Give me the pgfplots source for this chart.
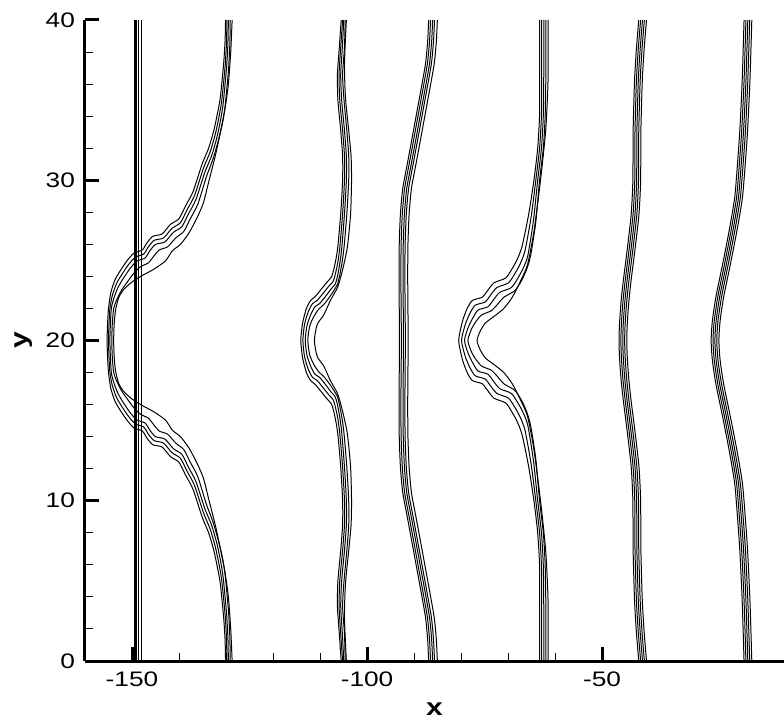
\documentclass[border=0pt]{standalone}
\usepackage{fontspec}
\setmainfont{Liberation Sans}[FakeStretch=1.25]
\usepackage{pgfplots}
\usepackage{pgfplotstable}
\pgfplotsset{compat=1.18}

% contour groups with the same y rows for all five lines
\pgfplotstableread{
y     a      b      c      d      e
0     -86.9  -86.5  -86.05 -85.65 -85.05
1.3   -87.1  -86.7  -86.25 -85.85 -85.25
2.7   -87.55 -87.15 -86.7  -86.3  -85.7
4.3   -88.5  -88.1  -87.65 -87.25 -86.65
5.9   -89.5  -89.1  -88.65 -88.25 -87.65
7.5   -90.5  -90.1  -89.65 -89.25 -88.65
9.0   -91.45 -91.05 -90.6  -90.2  -89.6
10.5  -92.4  -92.0  -91.55 -91.15 -90.55
12.1  -92.9  -92.5  -92.05 -91.65 -91.05
14.0  -93.15 -92.75 -92.3  -91.9  -91.3
16.0  -93.2  -92.8  -92.35 -91.95 -91.35
18.0  -93.15 -92.75 -92.3  -91.9  -91.3
20.0  -93.1  -92.7  -92.25 -91.85 -91.25
22.0  -93.15 -92.75 -92.3  -91.9  -91.3
24.0  -93.2  -92.8  -92.35 -91.95 -91.35
26.0  -93.15 -92.75 -92.3  -91.9  -91.3
27.9  -92.9  -92.5  -92.05 -91.65 -91.05
29.5  -92.4  -92.0  -91.55 -91.15 -90.55
31.0  -91.45 -91.05 -90.6  -90.2  -89.6
32.5  -90.5  -90.1  -89.65 -89.25 -88.65
34.1  -89.5  -89.1  -88.65 -88.25 -87.65
35.7  -88.5  -88.1  -87.65 -87.25 -86.65
37.3  -87.55 -87.15 -86.7  -86.3  -85.7
38.7  -87.1  -86.7  -86.25 -85.85 -85.25
40.0  -86.9  -86.5  -86.05 -85.65 -85.05
}\gthree

\pgfplotstableread{
y     a      b      c      d      e
0     -42.2  -41.8  -41.4  -41.0  -40.55
1.8   -42.7  -42.3  -41.9  -41.5  -41.05
3.8   -43.1  -42.7  -42.3  -41.9  -41.45
7.0   -43.4  -43.0  -42.6  -42.2  -41.75
10.0  -43.45 -43.05 -42.65 -42.25 -41.8
12.1  -43.8  -43.4  -43.0  -42.6  -42.15
14.2  -44.6  -44.2  -43.8  -43.4  -42.95
16.3  -45.5  -45.1  -44.7  -44.3  -43.85
17.7  -46.0  -45.6  -45.2  -44.8  -44.35
19.0  -46.3  -45.9  -45.5  -45.1  -44.65
20.0  -46.4  -46.0  -45.6  -45.2  -44.75
21.0  -46.3  -45.9  -45.5  -45.1  -44.65
22.3  -46.0  -45.6  -45.2  -44.8  -44.35
23.7  -45.5  -45.1  -44.7  -44.3  -43.85
25.8  -44.6  -44.2  -43.8  -43.4  -42.95
27.9  -43.8  -43.4  -43.0  -42.6  -42.15
30.0  -43.45 -43.05 -42.65 -42.25 -41.8
33.0  -43.4  -43.0  -42.6  -42.2  -41.75
36.2  -43.1  -42.7  -42.3  -41.9  -41.45
38.2  -42.7  -42.3  -41.9  -41.5  -41.05
40.0  -42.2  -41.8  -41.4  -41.0  -40.55
}\gfive

\pgfplotstableread{
y     a      b      c      d      e
0     -19.8  -19.4  -19.0  -18.6  -18.15
3.8   -20.2  -19.8  -19.4  -19.0  -18.55
6.9   -20.7  -20.3  -19.9  -19.5  -19.05
9.0   -21.2  -20.8  -20.4  -20.0  -19.55
11.1  -21.8  -21.4  -21.0  -20.6  -20.15
13.2  -23.0  -22.6  -22.2  -21.8  -21.35
15.3  -24.4  -24.0  -23.6  -23.2  -22.75
17.3  -25.8  -25.4  -25.0  -24.6  -24.15
18.8  -26.55 -26.15 -25.75 -25.35 -24.9
20.0  -26.8  -26.4  -26.0  -25.6  -25.15
21.2  -26.55 -26.15 -25.75 -25.35 -24.9
22.7  -25.8  -25.4  -25.0  -24.6  -24.15
24.7  -24.4  -24.0  -23.6  -23.2  -22.75
26.8  -23.0  -22.6  -22.2  -21.8  -21.35
28.9  -21.8  -21.4  -21.0  -20.6  -20.15
31.0  -21.2  -20.8  -20.4  -20.0  -19.55
33.1  -20.7  -20.3  -19.9  -19.5  -19.05
36.2  -20.2  -19.8  -19.4  -19.0  -18.55
40.0  -19.8  -19.4  -19.0  -18.6  -18.15
}\gsix

\begin{document}
\begin{tikzpicture}
\begin{axis}[
    scale only axis,
    width=349.5pt, height=320.5pt,
    xmin=-160, xmax=-11.3, ymin=0, ymax=40,
    axis x line*=bottom, axis y line*=left,
    axis line style={-, line width=1.5pt},
    xtick={-150,-100,-50}, xticklabels={-150,-100,-50},
    ytick={0,10,20,30,40}, yticklabels={0,10,20,30,40},
    minor x tick num=4, minor y tick num=4,
    tick align=inside,
    major tick length=7pt, minor tick length=4pt,
    major tick style={line width=1.5pt, black},
    minor tick style={line width=0.5pt, black},
    tick label style={font=\fontsize{10.5}{12}\selectfont},
    xticklabel style={yshift=-2pt},
    yticklabel style={xshift=-1.5pt},
    xlabel={x}, ylabel={y},
    label style={font=\fontsize{12}{14}\selectfont\bfseries},
    xlabel style={at={(axis description cs:0.5,0)}, anchor=center, yshift=-24pt},
    ylabel style={at={(axis description cs:0,0.5)}, anchor=center, yshift=30.5pt},
    cycle list={{black, solid}},
    every axis plot post/.append style={black, solid, line width=0.5pt, smooth, tension=0.4, mark=none},
]
% straight lines near x=-149
\addplot[line width=0.4pt] coordinates {(-149.55,0) (-149.55,40)};
\addplot[line width=0.4pt] coordinates {(-149.25,0) (-149.25,40)};
\addplot[line width=0.4pt] coordinates {(-148.95,0) (-148.95,40)};
\addplot[line width=0.4pt] coordinates {(-148.65,0) (-148.65,40)};
\addplot coordinates {(-148.0,0) (-148.0,40)};

% group 1, big bump
\addplot coordinates {(-130.1,0) (-130.2,1.3) (-130.5,2.7) (-131.2,4.8) (-131.8,5.8) (-132.6,6.9) (-133.7,8.0) (-135.1,9.0) (-137.0,10.7) (-138.6,11.6) (-140.0,12.4) (-141.8,12.75) (-143.6,13.35) (-145.6,13.5) (-146.8,13.9) (-147.8,14.35) (-149.6,14.55) (-151.0,15.0) (-152.4,15.6) (-153.6,16.2) (-154.5,17.0) (-155.0,18.0) (-155.2,19.0)
  (-155.3,20.0) (-155.2,21.0) (-155.0,22.0) (-154.5,23.0) (-153.6,23.8) (-152.4,24.4) (-151.0,25.0) (-149.6,25.45) (-147.8,25.65) (-146.8,26.1) (-145.6,26.5) (-143.6,26.65) (-141.8,27.25) (-140.0,27.6) (-138.6,28.4) (-137.0,29.3) (-135.1,31.0) (-133.7,32.0) (-132.6,33.1) (-131.8,34.2) (-131.2,35.2) (-130.5,37.3) (-130.2,38.7) (-130.1,40.0)};
\addplot coordinates {(-129.8,0) (-129.9,1.4) (-130.2,2.9) (-130.9,5.0) (-131.5,6.05) (-132.3,7.15) (-133.4,8.25) (-134.8,9.25) (-136.7,10.95) (-138.3,11.85) (-139.7,12.65) (-141.5,13.0) (-143.3,13.6) (-145.3,13.75) (-146.5,14.15) (-147.5,14.6) (-149.3,14.8) (-150.7,15.25) (-152.1,15.85) (-153.3,16.45) (-154.2,17.2) (-154.7,18.0) (-154.9,19.0)
  (-155.0,20.0) (-154.9,21.0) (-154.7,22.0) (-154.2,22.8) (-153.3,23.55) (-152.1,24.15) (-150.7,24.75) (-149.3,25.2) (-147.5,25.4) (-146.5,25.85) (-145.3,26.25) (-143.3,26.4) (-141.5,27.0) (-139.7,27.35) (-138.3,28.15) (-136.7,29.05) (-134.8,30.75) (-133.4,31.75) (-132.3,32.85) (-131.5,33.95) (-130.9,35.0) (-130.2,37.1) (-129.9,38.6) (-129.8,40.0)};
\addplot coordinates {(-129.5,0) (-129.6,1.5) (-129.9,3.0) (-130.6,5.2) (-131.2,6.3) (-132.0,7.4) (-133.1,8.5) (-134.5,9.5) (-136.4,11.2) (-138.0,12.1) (-139.4,12.9) (-141.2,13.25) (-143.0,13.85) (-145.0,14.0) (-146.2,14.4) (-147.2,14.85) (-149.0,15.05) (-150.4,15.5) (-151.8,16.1) (-153.0,16.7) (-153.9,17.4) (-154.4,18.0) (-154.6,19.0)
  (-154.7,20.0) (-154.6,21.0) (-154.4,22.0) (-153.9,22.6) (-153.0,23.3) (-151.8,23.9) (-150.4,24.5) (-149.0,24.95) (-147.2,25.15) (-146.2,25.6) (-145.0,26.0) (-143.0,26.15) (-141.2,26.75) (-139.4,27.1) (-138.0,27.9) (-136.4,28.8) (-134.5,30.5) (-133.1,31.5) (-132.0,32.6) (-131.2,33.7) (-130.6,34.8) (-129.9,37.0) (-129.6,38.5) (-129.5,40.0)};
\addplot coordinates {(-129.1,0) (-129.2,1.6) (-129.5,3.2) (-130.2,5.4) (-130.8,6.5) (-131.7,7.6) (-132.8,8.7) (-134.2,9.8) (-136.0,11.5) (-137.6,12.4) (-139.0,13.2) (-140.7,13.6) (-142.4,14.15) (-144.2,14.35) (-145.4,14.75) (-146.5,15.15) (-148.2,15.4) (-149.6,15.8) (-151.0,16.35) (-152.3,16.9) (-153.3,17.5) (-153.9,18.0) (-154.2,19.0)
  (-154.3,20.0) (-154.2,21.0) (-153.9,22.0) (-153.3,22.5) (-152.3,23.1) (-151.0,23.65) (-149.6,24.2) (-148.2,24.6) (-146.5,24.85) (-145.4,25.25) (-144.2,25.65) (-142.4,25.85) (-140.7,26.4) (-139.0,26.8) (-137.6,27.6) (-136.0,28.5) (-134.2,30.2) (-132.8,31.3) (-131.7,32.4) (-130.8,33.5) (-130.2,34.6) (-129.5,36.8) (-129.2,38.4) (-129.1,40.0)};
\addplot coordinates {(-128.7,0) (-129.0,2.0) (-129.5,4.0) (-130.2,5.5) (-131.2,7.0) (-132.3,8.5) (-133.6,10.0) (-134.8,11.4) (-136.1,12.3) (-137.9,13.3) (-139.7,14.0) (-141.4,14.4) (-142.9,15.04) (-145.4,15.56) (-147.8,15.94) (-150.0,16.35) (-151.7,16.8) (-152.8,17.3) (-153.5,18.1) (-153.8,19.0)
  (-153.9,20.0) (-153.8,21.0) (-153.5,21.9) (-152.8,22.7) (-151.7,23.2) (-150.0,23.65) (-147.8,24.06) (-145.4,24.44) (-142.9,24.96) (-141.4,25.6) (-139.7,26.0) (-137.9,26.7) (-136.1,27.7) (-134.8,28.6) (-133.6,30.0) (-132.3,31.5) (-131.2,33.0) (-130.2,34.5) (-129.5,36.0) (-129.0,38.0) (-128.7,40.0)};

% group 2
\addplot coordinates {(-105.5,0) (-105.9,1.7) (-106.3,3.4) (-106.2,5.0) (-105.6,6.9) (-105.2,8.5) (-105.2,10.0) (-105.6,12.1) (-106.2,14.1) (-106.6,14.9) (-107.1,15.6) (-107.6,16.05) (-108.5,16.35) (-109.6,16.75) (-111.0,17.25) (-112.0,17.5) (-112.9,18.0) (-113.7,18.9)
  (-114.1,20.0) (-113.7,21.1) (-112.9,22.0) (-112.0,22.5) (-111.0,22.75) (-109.6,23.25) (-108.5,23.65) (-107.6,23.95) (-107.1,24.4) (-106.6,25.1) (-106.2,25.9) (-105.6,27.9) (-105.2,30.0) (-105.2,31.5) (-105.6,33.1) (-106.2,35.0) (-106.3,36.6) (-105.9,38.3) (-105.5,40.0)};
\addplot coordinates {(-105.2,0) (-105.6,1.7) (-105.95,3.4) (-105.8,5.0) (-105.2,6.9) (-104.8,8.5) (-104.8,10.0) (-105.2,12.1) (-105.8,14.2) (-106.2,15.1) (-106.7,15.8) (-107.2,16.3) (-108.1,16.6) (-109.2,17.0) (-110.6,17.5) (-111.6,17.7) (-112.5,18.2) (-113.3,19.0)
  (-113.65,20.0) (-113.3,21.0) (-112.5,21.8) (-111.6,22.3) (-110.6,22.5) (-109.2,23.0) (-108.1,23.4) (-107.2,23.7) (-106.7,24.2) (-106.2,24.9) (-105.8,25.8) (-105.2,27.9) (-104.8,30.0) (-104.8,31.5) (-105.2,33.1) (-105.8,35.0) (-105.95,36.6) (-105.6,38.3) (-105.2,40.0)};
\addplot coordinates {(-104.95,0) (-105.25,1.7) (-105.6,3.4) (-105.4,5.0) (-104.8,6.9) (-104.4,8.5) (-104.4,10.0) (-104.8,12.1) (-105.4,14.3) (-105.8,15.2) (-106.3,16.0) (-106.8,16.5) (-107.7,16.8) (-108.7,17.2) (-110.1,17.7) (-111.1,17.9) (-112.0,18.4) (-112.8,19.1)
  (-113.15,20.0) (-112.8,20.9) (-112.0,21.6) (-111.1,22.1) (-110.1,22.3) (-108.7,22.8) (-107.7,23.2) (-106.8,23.5) (-106.3,24.0) (-105.8,24.8) (-105.4,25.7) (-104.8,27.9) (-104.4,30.0) (-104.4,31.5) (-104.8,33.1) (-105.4,35.0) (-105.6,36.6) (-105.25,38.3) (-104.95,40.0)};
\addplot coordinates {(-104.65,0) (-104.8,1.7) (-105.2,3.4) (-104.9,5.0) (-104.3,6.9) (-103.9,8.5) (-103.9,10.0) (-104.3,12.1) (-104.9,14.2) (-105.3,15.1) (-105.8,15.9) (-106.3,16.5) (-107.1,16.9) (-108.0,17.3) (-109.2,17.75) (-110.3,18.05) (-111.3,18.5) (-112.2,19.1)
  (-112.6,20.0) (-112.2,20.9) (-111.3,21.5) (-110.3,21.95) (-109.2,22.25) (-108.0,22.7) (-107.1,23.1) (-106.3,23.5) (-105.8,24.1) (-105.3,24.9) (-104.9,25.8) (-104.3,27.9) (-103.9,30.0) (-103.9,31.5) (-104.3,33.1) (-104.9,35.0) (-105.2,36.6) (-104.8,38.3) (-104.65,40.0)};
\addplot coordinates {(-104.4,0) (-104.8,2.7) (-104.6,4.8) (-103.9,6.9) (-103.4,8.5) (-103.3,10.0) (-103.5,12.1) (-104.2,14.2) (-105.3,15.7) (-106.3,16.7) (-107.8,17.5) (-109.2,18.4) (-110.6,19.0)
  (-111.2,20.0) (-110.6,21.0) (-109.2,21.6) (-107.8,22.5) (-106.3,23.3) (-105.3,24.3) (-104.2,25.8) (-103.5,27.9) (-103.3,30.0) (-103.4,31.5) (-103.9,33.1) (-104.6,35.2) (-104.8,37.3) (-104.4,40.0)};

% group 3
\addplot table[x=a, y=y] {\gthree};
\addplot table[x=b, y=y] {\gthree};
\addplot table[x=c, y=y] {\gthree};
\addplot table[x=d, y=y] {\gthree};
\addplot table[x=e, y=y] {\gthree};

% group 4
\addplot coordinates {(-63.3,0) (-63.3,3.0) (-63.3,5.9) (-63.7,8.0) (-64.5,10.0) (-65.6,12.1) (-67.0,14.1) (-68.0,14.9) (-69.1,15.5) (-70.5,16.1) (-73.0,16.4) (-74.4,16.9) (-75.5,17.3) (-77.6,17.5) (-78.7,18.0) (-79.7,18.8)
  (-80.5,20.0) (-79.7,21.2) (-78.7,22.0) (-77.6,22.5) (-75.5,22.7) (-74.4,23.1) (-73.0,23.6) (-70.5,23.9) (-69.1,24.5) (-68.0,25.1) (-67.0,25.9) (-65.6,27.9) (-64.5,30.0) (-63.7,32.0) (-63.3,34.1) (-63.3,37.0) (-63.3,40.0)};
\addplot coordinates {(-62.85,0) (-62.85,3.0) (-62.9,5.9) (-63.3,8.0) (-64.1,10.0) (-65.1,12.3) (-66.4,14.4) (-67.4,15.2) (-68.5,15.8) (-69.9,16.4) (-72.4,16.7) (-73.8,17.2) (-74.9,17.6) (-77.0,17.8) (-78.1,18.3) (-79.1,19.0)
  (-79.9,20.0) (-79.1,21.0) (-78.1,21.7) (-77.0,22.2) (-74.9,22.4) (-73.8,22.8) (-72.4,23.3) (-69.9,23.6) (-68.5,24.2) (-67.4,24.8) (-66.4,25.6) (-65.1,27.7) (-64.1,30.0) (-63.3,32.0) (-62.9,34.1) (-62.85,37.0) (-62.85,40.0)};
\addplot coordinates {(-62.4,0) (-62.4,3.0) (-62.5,5.9) (-62.9,8.0) (-63.7,10.0) (-64.6,12.5) (-65.8,14.7) (-66.8,15.5) (-67.9,16.1) (-69.3,16.7) (-71.8,17.0) (-73.2,17.5) (-74.3,17.9) (-76.4,18.1) (-77.5,18.6) (-78.5,19.2)
  (-79.26,20.0) (-78.5,20.8) (-77.5,21.4) (-76.4,21.9) (-74.3,22.1) (-73.2,22.5) (-71.8,23.0) (-69.3,23.3) (-67.9,23.9) (-66.8,24.5) (-65.8,25.3) (-64.6,27.5) (-63.7,30.0) (-62.9,32.0) (-62.5,34.1) (-62.4,37.0) (-62.4,40.0)};
\addplot coordinates {(-61.95,0) (-61.95,3.0) (-62.1,5.9) (-62.5,8.0) (-63.3,10.0) (-64.1,12.6) (-65.2,14.7) (-66.1,15.6) (-67.2,16.3) (-68.6,16.9) (-70.9,17.3) (-72.4,17.8) (-73.6,18.15) (-75.6,18.4) (-76.8,18.8) (-77.8,19.3)
  (-78.55,20.0) (-77.8,20.7) (-76.8,21.2) (-75.6,21.6) (-73.6,21.85) (-72.4,22.2) (-70.9,22.7) (-68.6,23.1) (-67.2,23.7) (-66.1,24.4) (-65.2,25.3) (-64.1,27.4) (-63.3,30.0) (-62.5,32.0) (-62.1,34.1) (-61.95,37.0) (-61.95,40.0)};
\addplot coordinates {(-61.5,0) (-61.5,3.8) (-62.0,6.9) (-63.1,10.0) (-64.5,13.2) (-65.9,15.3) (-67.7,16.5) (-69.1,17.3) (-70.9,18.0) (-73.0,18.5) (-74.8,18.9) (-75.9,19.4)
  (-76.6,20.0) (-75.9,20.6) (-74.8,21.1) (-73.0,21.5) (-70.9,22.0) (-69.1,22.7) (-67.7,23.5) (-65.9,24.7) (-64.5,26.8) (-63.1,30.0) (-62.0,33.1) (-61.5,36.2) (-61.5,40.0)};

% group 5
\addplot table[x=a, y=y] {\gfive};
\addplot table[x=b, y=y] {\gfive};
\addplot table[x=c, y=y] {\gfive};
\addplot table[x=d, y=y] {\gfive};
\addplot table[x=e, y=y] {\gfive};

% group 6
\addplot table[x=a, y=y] {\gsix};
\addplot table[x=b, y=y] {\gsix};
\addplot table[x=c, y=y] {\gsix};
\addplot table[x=d, y=y] {\gsix};
\addplot table[x=e, y=y] {\gsix};

\coordinate (bl) at (rel axis cs:0,0);
\coordinate (tr) at (rel axis cs:1,1);
\end{axis}
\pgfresetboundingbox
\path ([shift={(-42.5pt,-30.5pt)}]bl) rectangle ([shift={(0pt,10pt)}]tr);
\end{tikzpicture}
\end{document}
